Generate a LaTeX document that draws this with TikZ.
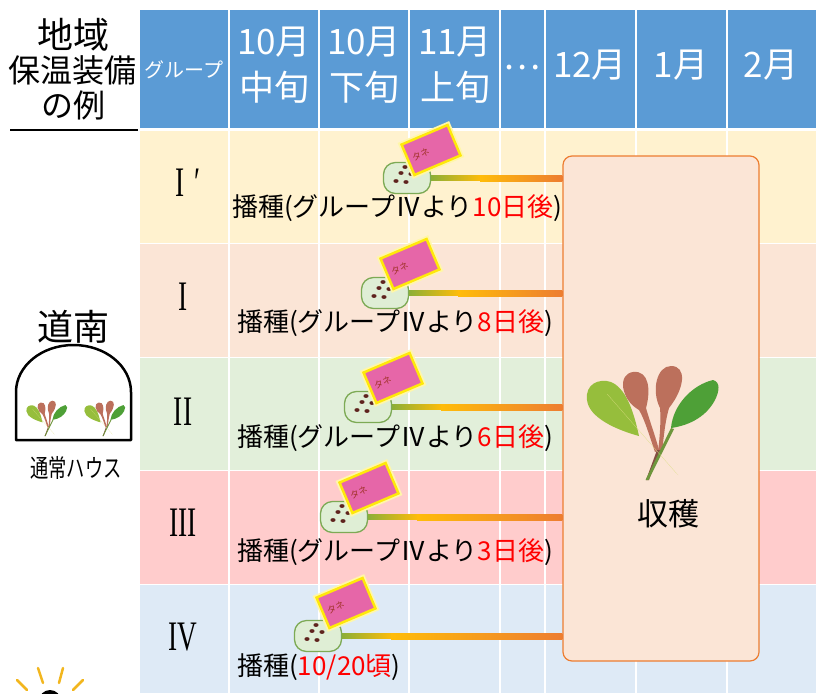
\documentclass[tikz,border=0pt]{standalone}
\usepackage{fontspec}
\setmainfont{Noto Sans CJK JP}
\newfontfamily\numeralfont[FakeStretch=0.65]{Liberation Serif}
\definecolor{hdrblue}{RGB}{91,155,213}
\definecolor{rowIa}{RGB}{255,242,207}
\definecolor{rowI}{RGB}{251,229,214}
\definecolor{rowII}{RGB}{226,239,218}
\definecolor{rowIII}{RGB}{255,204,204}
\definecolor{rowIV}{RGB}{222,234,246}
\definecolor{podfill}{RGB}{223,238,213}
\definecolor{podborder}{RGB}{125,170,85}
\definecolor{seedbrown}{RGB}{95,35,30}
\definecolor{packpink}{RGB}{230,102,168}
\definecolor{packyellow}{RGB}{255,232,10}
\definecolor{tanebrown}{RGB}{160,50,40}
\definecolor{linegreen}{RGB}{140,175,55}
\definecolor{lineyellow}{RGB}{255,188,10}
\definecolor{lineorange}{RGB}{237,125,49}
\definecolor{leaflight}{RGB}{150,190,60}
\definecolor{leafred}{RGB}{188,112,92}
\definecolor{leafdark}{RGB}{78,160,55}
\definecolor{stemgreen}{RGB}{110,150,60}
\definecolor{stempale}{RGB}{220,222,130}
\definecolor{sunyellow}{RGB}{242,182,30}
\definecolor{sowred}{RGB}{255,0,0}
\tikzset{
  hdrtxt/.style={text=white, align=center, inner sep=0pt, font=\fontsize{35}{46}\selectfont},
  hdrsmall/.style={text=white, inner sep=0pt, font=\fontsize{20}{20}\selectfont},
  leftbig/.style={inner sep=0pt, font=\fontsize{36}{36}\selectfont},
  leftmid/.style={inner sep=0pt, font=\fontsize{32}{32}\selectfont},
  grp/.style={inner sep=0pt, font=\numeralfont\fontsize{42}{42}\selectfont},
  sowtxt/.style={anchor=west, inner sep=0pt, font=\fontsize{26}{30}\selectfont},
  pod/.style={rectangle, rounded corners=12pt, draw=podborder, line width=1.3pt, fill=podfill,
              minimum width=47pt, minimum height=31pt, inner sep=0pt,
              path picture={
                \foreach \sx/\sy in {-2/-11, -6/-5, 4/-4, -11/3, -1/4}
                  \fill[seedbrown] ([shift={(\sx,\sy)}]path picture bounding box.center)
                    ellipse[x radius=2.6, y radius=1.9];}},
  packet/.style={rectangle, fill=packpink, draw=packyellow, line width=2.5pt, rotate=23,
                 minimum width=50pt, minimum height=33pt, text width=40pt, align=left,
                 text=tanebrown, font=\fontsize{9}{9}\selectfont,
                 preaction={draw=packyellow!35, line width=6pt}},
  harvestbox/.style={rectangle, rounded corners=9pt, draw=lineorange, line width=1.2pt, fill=rowI,
                     minimum width=196pt, minimum height=505pt},
  croptxt/.style={inner sep=0pt, font=\fontsize{31}{31}\selectfont},
  housetxt/.style={inner sep=0pt, font=\fontsize{25}{25}\selectfont},
  gridline/.style={white, line width=2.2pt},
  rowrule/.style={white, line width=1pt},
  house/.style={line width=2.5pt, line join=round},
  sunray/.style={sunyellow, line width=2.5pt, line cap=round},
  % a young leafy green, origin at the foot of the stems
  sprout/.pic={
    \fill[leaflight] (-8,-44) .. controls (-30,-50) and (-58,-62) .. (-60,-80)
      .. controls (-62,-96) and (-48,-102) .. (-36,-98)
      .. controls (-22,-92) and (-14,-72) .. (-8,-44) -- cycle;
    \fill[leafred] (8,-28) .. controls (2,-45) and (-2,-60) .. (-8,-70)
      .. controls (-26,-80) and (-30,-106) .. (-14,-108)
      .. controls (2,-110) and (4,-90) .. (-1,-72) .. controls (3,-58) and (8,-45) .. (12,-30) -- cycle;
    \fill[leafred] (11,-28) .. controls (13,-45) and (14,-60) .. (13,-72)
      .. controls (4,-90) and (10,-114) .. (24,-114)
      .. controls (40,-114) and (38,-92) .. (22,-72) .. controls (18,-58) and (17,-45) .. (15,-28) -- cycle;
    \fill[leafdark] (24,-52) .. controls (26,-75) and (45,-95) .. (66,-100)
      .. controls (74,-98) and (72,-88) .. (68,-80) .. controls (60,-65) and (45,-55) .. (24,-52) -- cycle;
    \fill[leafred!70!black] (-1,0) -- (2,0) -- (13,-30) -- (10,-30) -- cycle;
    \fill[stemgreen] (-1.5,0) -- (1.5,0) -- (27,-51) -- (24,-52) -- cycle;
    \fill[stempale] (31,-5) -- (29,-7) -- (-40,-86) -- (-38,-84) -- cycle;
  }
}
\newcommand{\sowafter}[1]{播種(グループⅣより\textcolor{sowred}{#1日後})}
% gradient feed from a sowing pod to the harvest box
\newcommand{\feedline}[1]{%
  \coordinate (#1-end) at (#1.east -| crop.west);
  \shade[left color=linegreen, right color=lineyellow]
    ([yshift=-2.2pt]#1.east) rectangle ([xshift=50pt, yshift=2.2pt]#1.east);
  \shade[left color=lineyellow, right color=lineorange]
    ([xshift=49pt, yshift=-3pt]#1.east) rectangle ([yshift=3pt]#1-end);}

\begin{document}
\begin{tikzpicture}[x=1pt, y=-1pt]
\useasboundingbox (0,0) rectangle (821,693);

% table background
\fill[hdrblue] (140,10) rectangle (816,129);
\fill[rowIa] (140,130) rectangle (816,243.5);
\fill[rowI] (140,243.5) rectangle (816,357);
\fill[rowII] (140,357) rectangle (816,470.5);
\fill[rowIII] (140,470.5) rectangle (816,584);
\fill[rowIV] (140,584) rectangle (816,693);
\foreach \y in {243.5,357,470.5,584}
  \draw[rowrule] (140,\y) -- (816,\y);
\draw[gridline] (140,129.5) -- (816,129.5);
\foreach \x in {228.6,319.2,409.2,500.2,544.8,635.8,726.6}
  \draw[gridline] (\x,10) -- (\x,693);

% header
\node[leftbig] (region) at (73,35) {地域};
\node[leftmid] (equip) at (73,70) {保温装備};
\node[leftmid] (example) at (73,105) {の例};
\draw[line width=2.5pt] (10,130) -- (138,130);
\node[hdrsmall] (hgrp) at (184,70) {グループ};
\node[hdrtxt] (h1) at (274,65) {10月\\中旬};
\node[hdrtxt] (h2) at (364,65) {10月\\下旬};
\node[hdrtxt] (h3) at (455,65) {11月\\上旬};
\node[hdrtxt] (h4) at (522,68) {…};
\node[hdrtxt] (h5) at (590,65) {12月};
\node[hdrtxt] (h6) at (681,65) {1月};
\node[hdrtxt] (h7) at (771,65) {2月};

% groups
\node[grp] (gIa) at (188,183) {I\kern9pt′};
\node[grp] (gI) at (183,297) {I};
\node[grp] (gII) at (183,412) {II};
\node[grp] (gIII) at (183,523) {III};
\node[grp] (gIV) at (183,637) {IV};

% harvest
\node[harvestbox] (crop) at (661,408.5) {};
\pic at (647,480) {sprout};
\node[croptxt] (croplbl) at (668,514) {収穫};

% sowing
\node[pod] (sow1) at (407,178) {};
\node[pod] (sow2) at (385,293) {};
\node[pod] (sow3) at (368,407) {};
\node[pod] (sow4) at (344,517) {};
\node[pod] (sow5) at (318,636) {};
\feedline{sow1}
\feedline{sow2}
\feedline{sow3}
\feedline{sow4}
\feedline{sow5}
\node[packet] (pack1) at (431,150) {タネ};
\node[packet] (pack2) at (410,264) {タネ};
\node[packet] (pack3) at (393,378) {タネ};
\node[packet] (pack4) at (369,488) {タネ};
\node[packet] (pack5) at (346,603) {タネ};
\node[sowtxt] (t1) at (232,208) {\sowafter{10}};
\node[sowtxt] (t2) at (237,323) {\sowafter{8}};
\node[sowtxt] (t3) at (237,438) {\sowafter{6}};
\node[sowtxt] (t4) at (237,552) {\sowafter{3}};
\node[sowtxt] (t5) at (237,667) {播種(\textcolor{sowred}{10/20頃})};

% region and house
\node[leftbig] (south) at (73,327) {道南};
\draw[house] (131,392) -- (131,440) -- (16,440) -- (16,392)
  arc[start angle=180, end angle=360, x radius=57.5, y radius=47];
\pic[scale=0.31] at (45,436) {sprout};
\pic[scale=0.31] at (103,436) {sprout};
\node[housetxt] (housename) at (76,468) {\scalebox{0.73}[1]{通常ハウス}};

% sun
\foreach \a/\b/\c/\d in {17/680/27/690, 38/668/43/683, 63/668/59/683, 83/680/73/690}
  \draw[sunray] (\a,\b) -- (\c,\d);
\fill (50,701) circle[radius=11];
\end{tikzpicture}
\end{document}
